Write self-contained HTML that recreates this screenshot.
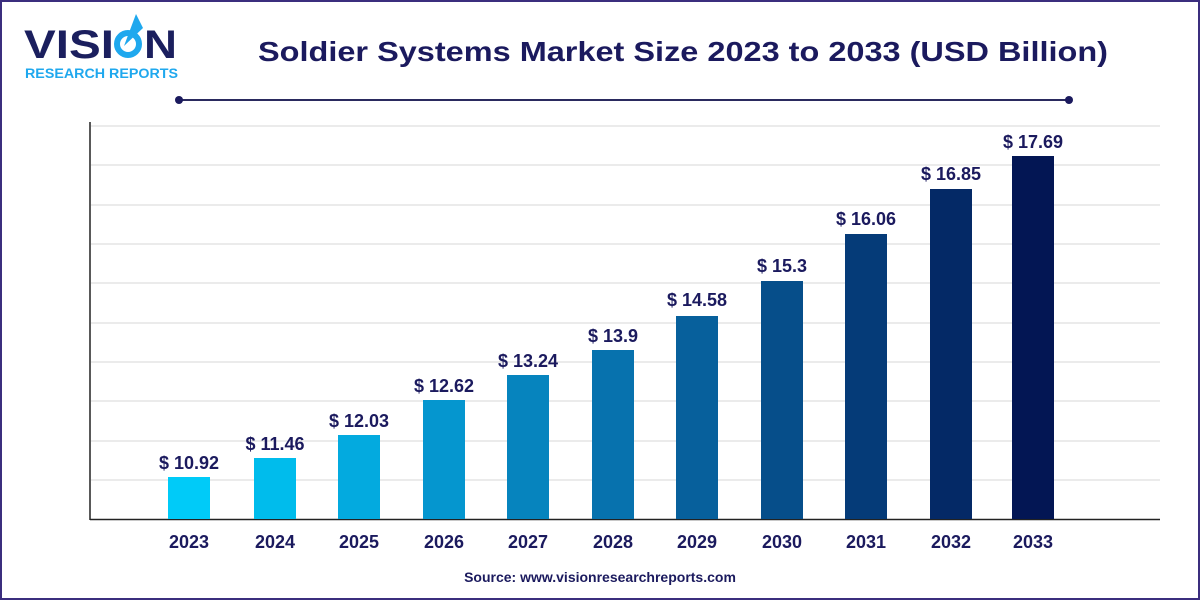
<!DOCTYPE html>
<html><head><style>
html,body{margin:0;padding:0;background:#fff;}
.wrap{position:relative;width:1196px;height:596px;border:2px solid #3b2e7e;font-family:"Liberation Sans",sans-serif;overflow:hidden;}
</style></head><body><div class="wrap">
<svg width="1196" height="596" viewBox="2 2 1196 596" xmlns="http://www.w3.org/2000/svg" style="position:absolute;left:0;top:0">
<text x="24" y="58" font-family="Liberation Sans" font-weight="bold" font-size="40" fill="#1b1f5e" textLength="90" lengthAdjust="spacingAndGlyphs">VISI</text>
<text x="144" y="58" font-family="Liberation Sans" font-weight="bold" font-size="40" fill="#1b1f5e" textLength="33" lengthAdjust="spacingAndGlyphs">N</text>
<circle cx="128" cy="44" r="11" fill="none" stroke="#1fa8ee" stroke-width="6"/>
<path d="M124 46 L136 14 L143 28 Z" fill="#1fa8ee"/>
<text x="25" y="78" font-family="Liberation Sans" font-weight="bold" font-size="13.5" fill="#1fa8ee" textLength="153" lengthAdjust="spacingAndGlyphs">RESEARCH REPORTS</text>
<text x="258" y="61" font-family="Liberation Sans" font-weight="bold" font-size="28" fill="#1b1a5e" textLength="850" lengthAdjust="spacingAndGlyphs">Soldier Systems Market Size 2023 to 2033 (USD Billion)</text>
<line x1="179" y1="100" x2="1069" y2="100" stroke="#2a2a5e" stroke-width="2"/>
<circle cx="179" cy="100" r="4" fill="#1b1a5e"/><circle cx="1069" cy="100" r="4" fill="#1b1a5e"/>
<g stroke="#ebebeb" stroke-width="2">
<line x1="91" y1="126" x2="1160" y2="126"/><line x1="91" y1="165" x2="1160" y2="165"/><line x1="91" y1="205" x2="1160" y2="205"/><line x1="91" y1="244" x2="1160" y2="244"/><line x1="91" y1="283" x2="1160" y2="283"/><line x1="91" y1="323" x2="1160" y2="323"/><line x1="91" y1="362" x2="1160" y2="362"/><line x1="91" y1="401" x2="1160" y2="401"/><line x1="91" y1="441" x2="1160" y2="441"/><line x1="91" y1="480" x2="1160" y2="480"/>
</g>
<line x1="90" y1="122" x2="90" y2="520" stroke="#222" stroke-width="1.5"/>
<line x1="90" y1="519.5" x2="1160" y2="519.5" stroke="#222" stroke-width="1.5"/>
<g font-family="Liberation Sans" font-weight="bold" font-size="18" fill="#1b1a5e" text-anchor="middle">
<rect x="168" y="477" width="42" height="42" fill="#00cbf8"/><text x="189" y="469">$ 10.92</text><text x="189" y="548">2023</text>
<rect x="254" y="458" width="42" height="61" fill="#00bcec"/><text x="275" y="450">$ 11.46</text><text x="275" y="548">2024</text>
<rect x="338" y="435" width="42" height="84" fill="#03aadf"/><text x="359" y="427">$ 12.03</text><text x="359" y="548">2025</text>
<rect x="423" y="400" width="42" height="119" fill="#0596cf"/><text x="444" y="392">$ 12.62</text><text x="444" y="548">2026</text>
<rect x="507" y="375" width="42" height="144" fill="#0684be"/><text x="528" y="367">$ 13.24</text><text x="528" y="548">2027</text>
<rect x="592" y="350" width="42" height="169" fill="#0772ae"/><text x="613" y="342">$ 13.9</text><text x="613" y="548">2028</text>
<rect x="676" y="316" width="42" height="203" fill="#07609c"/><text x="697" y="306">$ 14.58</text><text x="697" y="548">2029</text>
<rect x="761" y="281" width="42" height="238" fill="#064e8a"/><text x="782" y="272">$ 15.3</text><text x="782" y="548">2030</text>
<rect x="845" y="234" width="42" height="285" fill="#053b78"/><text x="866" y="225">$ 16.06</text><text x="866" y="548">2031</text>
<rect x="930" y="189" width="42" height="330" fill="#042966"/><text x="951" y="180">$ 16.85</text><text x="951" y="548">2032</text>
<rect x="1012" y="156" width="42" height="363" fill="#031654"/><text x="1033" y="148">$ 17.69</text><text x="1033" y="548">2033</text>
</g>
<text x="600" y="582" text-anchor="middle" font-family="Liberation Sans" font-weight="bold" font-size="14" fill="#1b1a5e">Source: www.visionresearchreports.com</text>
</svg></div></body></html>
